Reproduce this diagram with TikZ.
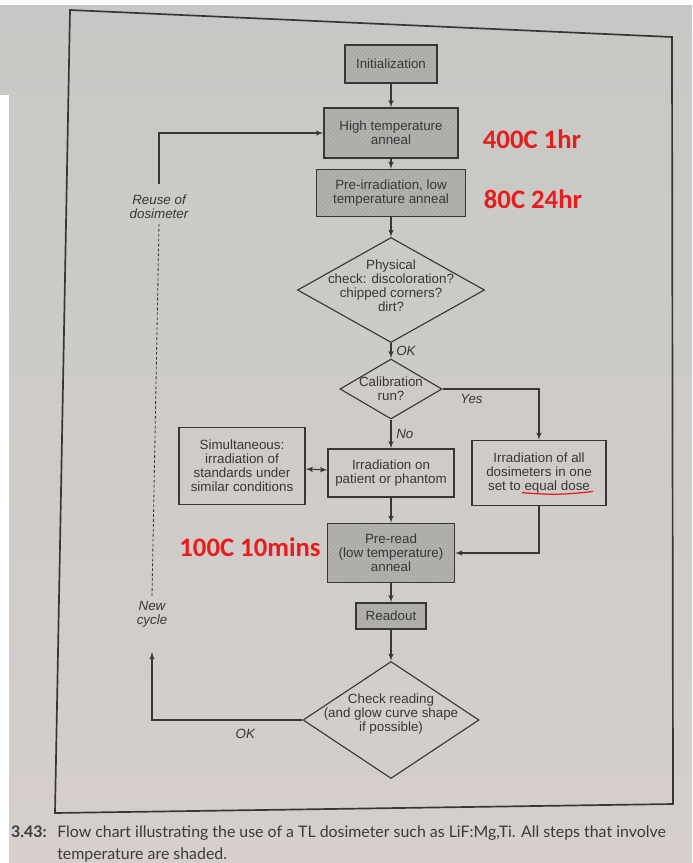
\documentclass[tikz,border=0pt]{standalone}
\usepackage{fontspec}
\setmainfont{Liberation Sans}
\newfontfamily\capfont{Lato}
\newfontfamily\notefont{Carlito}
\usetikzlibrary{shapes,arrows,patterns}
\definecolor{ink}{RGB}{55,55,55}
\definecolor{shade}{RGB}{172,171,168}
\definecolor{tempred}{RGB}{232,28,28}
\definecolor{papertop}{RGB}{199,200,197}
\definecolor{paperbot}{RGB}{214,207,203}
\definecolor{capink}{RGB}{60,58,58}

\begin{document}
\begin{tikzpicture}[x=0.025cm, y=-0.025cm, >=latex', font=\fontsize{9.5}{10}\selectfont]
    %define block styles
    \tikzset{
        shaded/.style={rectangle, draw=ink, line width=0.9pt, preaction={fill=shade}, pattern=crosshatch dots, pattern color=black!25, text=ink, align=center, inner sep=1pt},
        process/.style={rectangle, draw=ink, line width=0.8pt, text=ink, align=center, inner sep=1pt},
        decision/.style={diamond, draw=ink, line width=0.8pt, inner sep=0pt},
        arrow/.style={draw=ink, line width=0.8pt, ->},
        remark/.style={font=\fontsize{9.5}{10}\selectfont\itshape, text=ink, align=center},
        temp/.style={font=\notefont\bfseries\fontsize{19}{19}\selectfont, text=tempred},
        capstyle/.style={font=\capfont\fontsize{11.3}{15.5}\selectfont, text=capink, align=left, inner sep=0pt},}
    \useasboundingbox (0,0) rectangle (692,863);
    %page
    \fill[white] (0,0) rectangle (692,863);
    \shade[top color=papertop, bottom color=paperbot] (0,5) rectangle (692,863);
    \draw[ink, line width=1.2pt] (70,10) -- (672,37) -- (673,804) -- (55,813) -- cycle;
    %define nodes
    \node[shaded, minimum width=2.3cm, minimum height=0.95cm] (init) at (391,64) {Initialization};
    \node[shaded, minimum width=3.35cm, minimum height=1.25cm] (hightemp) at (391,133) {High temperature\\anneal};
    \node[shaded, minimum width=3.725cm, minimum height=1.175cm] (preirr) at (391,193) {Pre-irradiation, low\\temperature anneal};
    \node[decision, minimum width=4.675cm, minimum height=2.625cm, label={[align=center, text=ink, yshift=3pt]center:{Physical\\check: discoloration?\\chipped corners?\\dirt?}}] (phys) at (391,290) {};
    \node[decision, minimum width=2.55cm, minimum height=1.5cm, label={[align=center, text=ink]center:{Calibration\\run?}}] (calib) at (391,389) {};
    \node[process, minimum width=3.15cm, minimum height=1.2cm] (patient) at (391,473) {Irradiation on\\patient or phantom};
    \node[process, minimum width=3.15cm, minimum height=1.925cm] (simul) at (242,466) {Simultaneous:\\irradiation of\\standards under\\similar conditions};
    \node[process, minimum width=3.35cm, minimum height=1.625cm] (allirr) at (539,473) {Irradiation of all\\dosimeters in one\\set to equal dose};
    \node[shaded, minimum width=3.175cm, minimum height=1.475cm] (preread) at (391,553) {Pre-read\\(low temperature)\\anneal};
    \node[shaded, minimum width=1.75cm, minimum height=0.65cm] (readout) at (391,616) {Readout};
    \node[decision, minimum width=4.4cm, minimum height=2.925cm, label={[align=center, text=ink, yshift=4pt]center:{Check reading\\(and glow curve shape\\if possible)}}] (check) at (391,720) {};
    \node[remark] (reuse) at (159,207) {Reuse of\\dosimeter};
    \node[remark] (newcycle) at (152,614) {New\\cycle};
    \coordinate (cyclein) at (152,652);
    %temperatures
    \node[temp] (t400) at (532,139) {400C 1hr};
    \node[temp] (t80) at (533,199) {80C 24hr};
    \node[temp] (t100) at (250,547) {100C 10mins};
    \draw[tempred, line width=0.9pt] ([xshift=-0.42cm,yshift=-0.49cm]allirr.center) to[bend right=6] ([xshift=1.35cm,yshift=-0.46cm]allirr.center);
    %connectors
    \draw[arrow] (init) -- (hightemp);
    \draw[arrow] (hightemp) -- (preirr);
    \draw[arrow] (preirr) -- (phys);
    \draw[arrow] (phys) -- node[right, remark]{OK} (calib);
    \draw[arrow] (calib) -- node[right, remark]{No} (patient);
    \draw[arrow] (calib.east) -| node[pos=0.15, below, remark]{Yes} (allirr.north);
    \draw[arrow, <->] (simul) -- (patient);
    \draw[arrow] (patient) -- (preread);
    \draw[arrow] (allirr.south) |- (preread.east);
    \draw[arrow] (preread) -- (readout);
    \draw[arrow] (readout) -- (check);
    \draw[arrow] (check.west) -| node[pos=0.19, below=3pt, remark]{OK} (cyclein);
    \draw[arrow] ([yshift=4pt]reuse.north) |- (hightemp.west);
    \draw[ink, line width=0.6pt, dash pattern=on 2pt off 1.5pt] (reuse.south) -- (newcycle.north);
    %caption
    \node[capstyle, anchor=north east] (capnum) at (47,826) {\textbf{3.43:}};
    \node[capstyle, anchor=north west] (caption) at (57,826) {Flow chart illustrating the use of a TL dosimeter such as LiF:Mg,Ti. All steps that involve\\temperature are shaded.};
    \fill[white] (0,95) rectangle (9,863);
\end{tikzpicture}
\end{document}
